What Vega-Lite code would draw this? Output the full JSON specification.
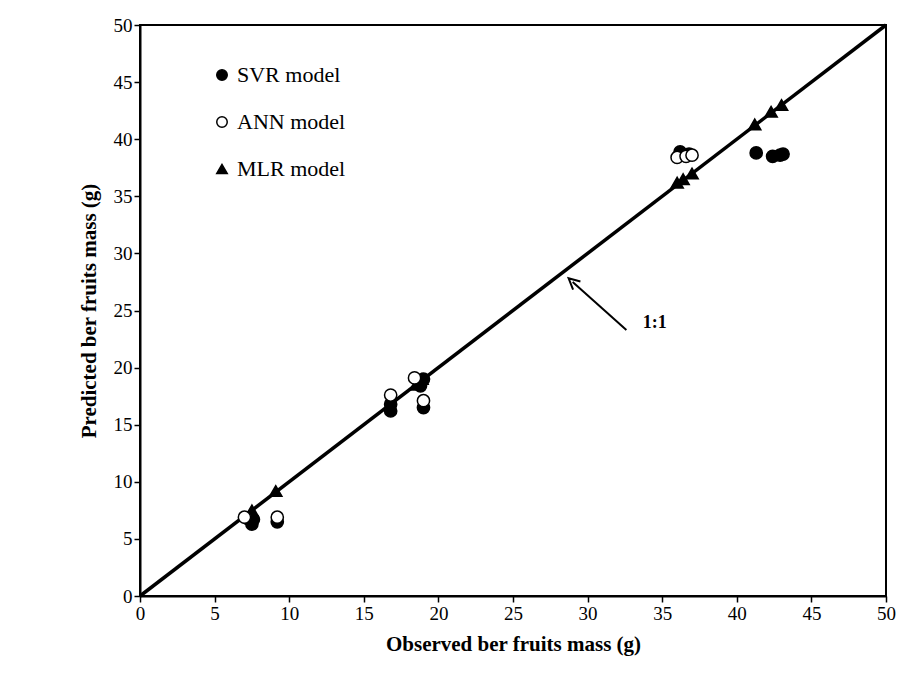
{
  "$schema": "https://vega.github.io/schema/vega-lite/v6.json",
  "width": 746,
  "height": 571,
  "autosize": {"type": "none"},
  "padding": {"left": 140, "top": 25, "right": 23, "bottom": 96},
  "background": "white",
  "config": {
    "view": {"stroke": "black", "strokeWidth": 2},
    "font": "Liberation Serif",
    "axis": {
      "grid": false,
      "domainColor": "black",
      "domainWidth": 2,
      "tickColor": "black",
      "tickWidth": 1.5,
      "tickSize": 6,
      "labelFont": "Liberation Serif",
      "labelFontSize": 19,
      "labelColor": "black",
      "labelOverlap": false,
      "labelFlush": false,
      "titleFont": "Liberation Serif",
      "titleFontSize": 21,
      "titleFontWeight": "bold",
      "titleColor": "black"
    },
    "legend": {
      "orient": "none",
      "legendX": 71,
      "legendY": 39,
      "labelFont": "serif",
      "labelFontSize": 22,
      "labelColor": "black",
      "symbolSize": 110,
      "symbolStrokeWidth": 1.5,
      "rowPadding": 25,
      "labelOffset": 4,
      "padding": 0
    }
  },
  "datasets": {
    "pts": [
      {"model": "SVR model", "obs": 7.2, "pred": 6.8},
      {"model": "SVR model", "obs": 7.5, "pred": 6.3},
      {"model": "SVR model", "obs": 7.6, "pred": 6.7},
      {"model": "SVR model", "obs": 9.2, "pred": 6.5},
      {"model": "SVR model", "obs": 16.8, "pred": 16.2},
      {"model": "SVR model", "obs": 16.8, "pred": 16.8},
      {"model": "SVR model", "obs": 19.0, "pred": 16.5},
      {"model": "SVR model", "obs": 18.8, "pred": 18.4},
      {"model": "SVR model", "obs": 19.0, "pred": 19.0},
      {"model": "SVR model", "obs": 36.2, "pred": 38.9},
      {"model": "SVR model", "obs": 36.8, "pred": 38.7},
      {"model": "SVR model", "obs": 41.3, "pred": 38.8},
      {"model": "SVR model", "obs": 42.4, "pred": 38.5},
      {"model": "SVR model", "obs": 42.9, "pred": 38.6},
      {"model": "SVR model", "obs": 43.1, "pred": 38.7},
      {"model": "ANN model", "obs": 7.0, "pred": 6.9},
      {"model": "ANN model", "obs": 9.2, "pred": 6.9},
      {"model": "ANN model", "obs": 16.8, "pred": 17.6},
      {"model": "ANN model", "obs": 18.4, "pred": 19.1},
      {"model": "ANN model", "obs": 19.0, "pred": 17.1},
      {"model": "ANN model", "obs": 36.0, "pred": 38.4},
      {"model": "ANN model", "obs": 36.6, "pred": 38.5},
      {"model": "ANN model", "obs": 37.0, "pred": 38.6},
      {"model": "MLR model", "obs": 7.5, "pred": 7.5},
      {"model": "MLR model", "obs": 9.1, "pred": 9.2},
      {"model": "MLR model", "obs": 18.5, "pred": 18.5},
      {"model": "MLR model", "obs": 18.9, "pred": 19.0},
      {"model": "MLR model", "obs": 36.0, "pred": 36.2},
      {"model": "MLR model", "obs": 36.4, "pred": 36.5},
      {"model": "MLR model", "obs": 37.0, "pred": 37.0},
      {"model": "MLR model", "obs": 41.2, "pred": 41.3},
      {"model": "MLR model", "obs": 42.3, "pred": 42.4},
      {"model": "MLR model", "obs": 43.0, "pred": 43.0}
    ],
    "line": [{"obs": 0, "pred": 0}, {"obs": 50, "pred": 50}],
    "arrow": [{"x1": 32.6, "y1": 23.3, "x2": 29.0, "y2": 27.5, "label": "1:1", "lx": 33.7, "ly": 23.9}]
  },
  "layer": [
    {
      "data": {"name": "line"},
      "mark": {"type": "line", "color": "black", "strokeWidth": 3.5},
      "encoding": {
        "x": {"field": "obs", "type": "quantitative", "scale": {"domain": [0, 50]}, "axis": {"title": "Observed ber fruits mass (g)", "values": [0,5,10,15,20,25,30,35,40,45,50], "titlePadding": 10}},
        "y": {"field": "pred", "type": "quantitative", "scale": {"domain": [0, 50]}, "axis": {"title": "Predicted ber fruits  mass (g)", "values": [0,5,10,15,20,25,30,35,40,45,50], "titlePadding": 14}}
      }
    },
    {
      "data": {"name": "pts"},
      "mark": {"type": "point", "filled": false, "strokeWidth": 1.5, "size": 150, "opacity": 1},
      "encoding": {
        "x": {"field": "obs", "type": "quantitative"},
        "y": {"field": "pred", "type": "quantitative"},
        "shape": {"field": "model", "type": "nominal", "scale": {"domain": ["SVR model", "ANN model", "MLR model"], "range": ["circle", "circle", "triangle-up"]}, "legend": {"title": null, "labelFont": "serif"}},
        "fill": {"field": "model", "type": "nominal", "scale": {"domain": ["SVR model", "ANN model", "MLR model"], "range": ["black", "white", "black"]}, "legend": {"title": null, "labelFont": "serif"}},
        "stroke": {"field": "model", "type": "nominal", "scale": {"domain": ["SVR model", "ANN model", "MLR model"], "range": ["black", "black", "black"]}, "legend": {"title": null, "labelFont": "serif"}},
        "order": {"field": "model", "sort": "descending"}
      }
    },
    {
      "data": {"name": "arrow"},
      "mark": {"type": "rule", "color": "black", "strokeWidth": 2},
      "encoding": {
        "x": {"field": "x1", "type": "quantitative"},
        "y": {"field": "y1", "type": "quantitative"},
        "x2": {"field": "x2"},
        "y2": {"field": "y2"}
      }
    },
    {
      "data": {"name": "arrow"},
      "mark": {"type": "point", "shape": "M-1,1L0,-1L1,1", "filled": false, "stroke": "black", "strokeWidth": 2, "size": 120, "angle": 312, "opacity": 1},
      "encoding": {
        "x": {"field": "x2", "type": "quantitative"},
        "y": {"field": "y2", "type": "quantitative"}
      }
    },
    {
      "data": {"name": "arrow"},
      "mark": {"type": "text", "font": "Liberation Serif", "fontWeight": "bold", "fontSize": 18, "align": "left", "baseline": "middle", "color": "black"},
      "encoding": {
        "x": {"field": "lx", "type": "quantitative"},
        "y": {"field": "ly", "type": "quantitative"},
        "text": {"field": "label"}
      }
    }
  ]
}
